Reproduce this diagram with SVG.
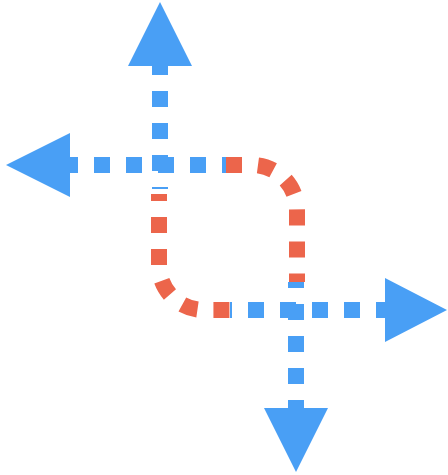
<svg xmlns="http://www.w3.org/2000/svg" width="448" height="475" viewBox="0 0 448 475">
  <style>
    .blue { fill: none; stroke: #499FF5; stroke-width: 16; stroke-linecap: butt; stroke-dasharray: 16 16; }
    .red { fill: none; stroke: #EC654B; stroke-width: 16; stroke-linecap: butt; stroke-dasharray: 16 16; }
    .head { fill: #499FF5; stroke: none; }
  </style>
  <rect width="448" height="475" fill="#FFFFFF"/>
  <g id="connectors">
    <path class="blue" d="M160,189 L160,60" stroke-dashoffset="14"/>
    <path class="blue" d="M226,165 L62,165" stroke-dashoffset="12"/>
    <path class="blue" d="M230,310 L392,310" stroke-dashoffset="14"/>
    <path class="blue" d="M296,282 L296,416" stroke-dashoffset="10"/>
    <path class="red" d="M226,165 L252,165 A45,45 0 0 1 297,210 L297,282"/>
    <path class="red" d="M159,194 L159,265 A45,45 0 0 0 204,310 L230,310" stroke-dashoffset="9"/>
  </g>
  <g id="arrow-up"><polygon class="head" points="160,2 192,66 128,66"/></g>
  <g id="arrow-left"><polygon class="head" points="6,165 70,133 70,197"/></g>
  <g id="arrow-right"><polygon class="head" points="447,310 385,278 385,342"/></g>
  <g id="arrow-down"><polygon class="head" points="296,472 264,408 328,408"/></g>
</svg>
